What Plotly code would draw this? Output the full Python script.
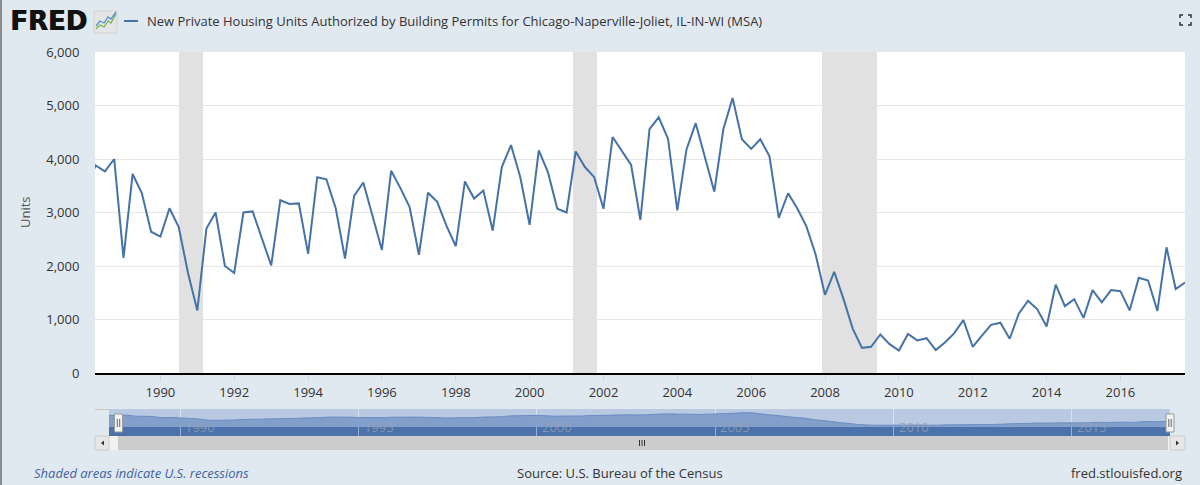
import pandas as pd
import plotly.graph_objects as go

W, H = 1200, 485

# quarterly permits, Chicago-Naperville-Joliet MSA (units)
quarters = pd.date_range("1988-01-01", "2017-10-01", freq="QS")
permits = [
    3500, 3880, 3770, 4000,
    2150, 3720, 3365, 2640,
    2550, 3080, 2730, 1870,
    1170, 2700, 3000, 2000,
    1870, 3000, 3020, 2510,
    2010, 3230, 3160, 3170,
    2230, 3660, 3620, 3080,
    2140, 3310, 3560, 2930,
    2300, 3780, 3460, 3100,
    2210, 3370, 3200, 2750,
    2370, 3580, 3260, 3410,
    2660, 3850, 4260, 3660,
    2770, 4160, 3750, 3070,
    3000, 4140, 3850, 3660,
    3070, 4410, 4140, 3890,
    2860, 4560, 4780, 4380,
    3040, 4180, 4670, 4010,
    3390, 4560, 5140, 4370,
    4190, 4370, 4050, 2900,
    3360, 3080, 2740, 2210,
    1460, 1890, 1390, 830,
    470, 490, 720, 540,
    420, 730, 610, 650,
    430, 570, 740, 990,
    490, 700, 900, 940,
    640, 1110, 1350, 1190,
    870, 1650, 1250, 1380,
    1030, 1550, 1320, 1550,
    1530, 1170, 1780, 1730,
    1160, 2350, 1570, 1690,
]

recession_starts = ["1990-07-01", "2001-03-01", "2007-12-01"]
recession_ends = ["1991-03-01", "2001-11-01", "2009-06-01"]

nav_years = ["1990", "1995", "2000", "2005", "2010", "2015"]

title = ("New Private Housing Units Authorized by Building Permits for "
         "Chicago-Naperville-Joliet, IL-IN-WI (MSA)")

Y_TOP = 6000


def fx(p):
    return p / W


def fy(p):
    return 1 - p / H


def px_path(points):
    return "M " + " L ".join(f"{fx(a)},{fy(b)}" for a, b in points)


# recession bands as full-height bars
rs = pd.to_datetime(recession_starts)
re_ = pd.to_datetime(recession_ends)
rec_mid = rs + (re_ - rs) / 2
rec_width = [(e - s).total_seconds() * 1000 for s, e in zip(rs, re_)]

# the navigator draws a smoothed copy of the series
nav_values = pd.Series(permits).rolling(4, center=True, min_periods=1).mean()

fig = go.Figure()
fig.add_trace(go.Bar(
    x=rec_mid, y=[Y_TOP] * len(rec_mid), width=rec_width,
    marker=dict(color="#e1e1e1", line_width=0),
    xaxis="x", yaxis="y", showlegend=False, hoverinfo="skip",
))
fig.add_trace(go.Scatter(
    x=quarters, y=permits, mode="lines",
    line=dict(color="#4572a7", width=2),
    xaxis="x", yaxis="y", showlegend=False,
))
fig.add_trace(go.Scatter(
    x=quarters, y=nav_values, mode="lines",
    line=dict(color="#6b8dc3", width=1, shape="spline"),
    fill="tozeroy", fillcolor="#829fcc",
    xaxis="x2", yaxis="y2", showlegend=False, hoverinfo="skip",
))

shapes = []

# navigator background and lower band
shapes.append(dict(type="rect", xref="x2 domain", yref="y2 domain", x0=0, x1=1,
                   y0=0, y1=1, fillcolor="#b9c9e2", line_width=0, layer="below"))
shapes.append(dict(type="rect", xref="x2 domain", yref="y2", x0=0, x1=1,
                   y0=-2870, y1=0, fillcolor="#4b72ab", line_width=0, layer="below"))
shapes.append(dict(type="line", xref="paper", yref="paper", x0=fx(95), x1=fx(109),
                   y0=fy(409.5), y1=fy(409.5), line=dict(color="#c8c8c8", width=1)))

# scrollbar
shapes.append(dict(type="rect", xref="paper", yref="paper", x0=fx(109), x1=fx(1170),
                   y0=fy(450), y1=fy(436), fillcolor="#f2f2f2", line_width=0))
shapes.append(dict(type="rect", xref="paper", yref="paper", x0=fx(118), x1=fx(1168),
                   y0=fy(450), y1=fy(436), fillcolor="#cccccc", line_width=0))
for a, b in [(95, 109), (1170, 1185)]:
    shapes.append(dict(type="rect", xref="paper", yref="paper", x0=fx(a), x1=fx(b),
                       y0=fy(450), y1=fy(436), fillcolor="#e6e6e6",
                       line=dict(color="#cccccc", width=1)))
shapes.append(dict(type="path", xref="paper", yref="paper",
                   path=px_path([(104, 440.5), (104, 445.5), (101, 443)]) + " Z",
                   fillcolor="#333333", line_width=0))
shapes.append(dict(type="path", xref="paper", yref="paper",
                   path=px_path([(1176, 440.5), (1176, 445.5), (1179, 443)]) + " Z",
                   fillcolor="#333333", line_width=0))
# grip on the scrollbar thumb
for gx in [639.5, 642, 644.5]:
    shapes.append(dict(type="line", xref="paper", yref="paper", x0=fx(gx), x1=fx(gx),
                       y0=fy(446), y1=fy(440), line=dict(color="#333333", width=1)))

# navigator handles
for c in [118.5, 1170]:
    shapes.append(dict(type="rect", xref="paper", yref="paper", x0=fx(c - 4), x1=fx(c + 4),
                       y0=fy(432), y1=fy(414), fillcolor="#f2f2f2",
                       line=dict(color="#999999", width=1)))
    for d in [-1.2, 1.2]:
        shapes.append(dict(type="line", xref="paper", yref="paper", x0=fx(c + d), x1=fx(c + d),
                           y0=fy(427), y1=fy(419), line=dict(color="#666666", width=1)))

# FRED icon
shapes.append(dict(type="rect", xref="paper", yref="paper", x0=fx(94), x1=fx(117),
                   y0=fy(33), y1=fy(11), fillcolor="#e3e5e7",
                   line=dict(color="#d2d4d6", width=1)))
shapes.append(dict(type="path", xref="paper", yref="paper",
                   path=px_path([(96, 29), (100, 25), (104, 27), (108, 21), (111, 23), (116, 14)]),
                   line=dict(color="#7ab648", width=1.3)))
shapes.append(dict(type="path", xref="paper", yref="paper",
                   path=px_path([(96, 26), (100, 21), (104, 23), (108, 17), (111, 19), (116, 12)]),
                   line=dict(color="#5b8fd1", width=1.3)))
# legend swatch
shapes.append(dict(type="line", xref="paper", yref="paper", x0=fx(124), x1=fx(138),
                   y0=fy(21), y1=fy(21), line=dict(color="#4572a7", width=2)))

# fullscreen icon
for cx, cy, dx, dy in [(1180, 15, 1, 1), (1191, 15, -1, 1), (1180, 25, 1, -1), (1191, 25, -1, -1)]:
    shapes.append(dict(type="path", xref="paper", yref="paper",
                       path=px_path([(cx + 3 * dx, cy), (cx, cy), (cx, cy + 3 * dy)]),
                       line=dict(color="#333333", width=1.5)))

# left frame line
shapes.append(dict(type="line", xref="paper", yref="paper", x0=fx(1), x1=fx(1),
                   y0=0, y1=1, line=dict(color="#8a8a8a", width=2)))

annotations = [
    dict(text="<b>FRED</b>", x=fx(8), y=fy(21), xanchor="left", yanchor="middle",
         font=dict(family="DejaVu Sans", size=26, color="#111111",
                   shadow="0.8px 0 0 #111111")),
    dict(text=title, x=fx(145), y=fy(21), xanchor="left", yanchor="middle",
         font=dict(size=13, color="#333333")),
    dict(text="Units", x=fx(25), y=fy(212), textangle=-90, xanchor="center",
         yanchor="middle", font=dict(size=13, color="#555555")),
    dict(text="<i>Shaded areas indicate U.S. recessions</i>", x=fx(32), y=fy(473),
         xanchor="left", yanchor="middle", font=dict(size=13, color="#3f64a0")),
    dict(text="Source: U.S. Bureau of the Census", x=fx(515), y=fy(473),
         xanchor="left", yanchor="middle", font=dict(size=13, color="#333333")),
    dict(text="fred.stlouisfed.org", x=fx(1184), y=fy(473),
         xanchor="right", yanchor="middle", font=dict(size=13, color="#333333")),
]
for yr in nav_years:
    annotations.append(dict(text=yr, xref="x2", yref="paper", x=f"{yr}-01-01",
                            y=fy(427), xanchor="left", yanchor="middle", xshift=3,
                            font=dict(size=13, color="rgba(150,160,175,0.8)")))
for a in annotations:
    a.setdefault("xref", "paper")
    a.setdefault("yref", "paper")
    a["showarrow"] = False

fig.update_layout(
    width=W, height=H,
    autosize=False,
    margin=dict(l=0, r=0, t=0, b=0, pad=0, autoexpand=False),
    paper_bgcolor="#e1e9f0",
    plot_bgcolor="#ffffff",
    font=dict(family="Open Sans", color="#333333"),
    showlegend=False,
    bargap=0,
    xaxis=dict(
        domain=[fx(95), fx(1185)], anchor="y", type="date",
        range=["1988-03-25", "2017-10-01"],
        tick0="1990-01-01", dtick="M24", tickformat="%Y",
        ticks="outside", ticklen=6, tickcolor="#ccd6eb",
        showgrid=False, zeroline=False, automargin=False,
        showline=True, linecolor="#000000", linewidth=2,
        tickfont=dict(size=13, color="#333333"), fixedrange=True,
    ),
    yaxis=dict(
        domain=[fy(373), fy(52)], anchor="x",
        range=[0, Y_TOP], dtick=1000, tickformat=",",
        gridcolor="#e6e6e6", gridwidth=1, zeroline=False, showline=False,
        ticks="outside", ticklen=12, tickcolor="rgba(0,0,0,0)", automargin=False,
        tickfont=dict(size=13, color="#333333"), fixedrange=True,
    ),
    xaxis2=dict(
        domain=[fx(109), fx(1170)], anchor="y2", type="date",
        range=["1988-01-01", "2017-10-01"],
        tick0="1990-01-01", dtick="M60", showticklabels=False, ticks="",
        showgrid=True, gridcolor="rgba(255,255,255,0.45)", automargin=False,
        zeroline=False, showline=False, fixedrange=True,
    ),
    yaxis2=dict(
        domain=[fy(436), fy(409)], anchor="x2",
        range=[-2870, 5740], showticklabels=False, showgrid=False, automargin=False,
        zeroline=False, showline=False, fixedrange=True,
    ),
    shapes=shapes,
    annotations=annotations,
)

fig.write_html("out.html", config={"displayModeBar": False},
               post_script="document.body.style.margin='0';")
